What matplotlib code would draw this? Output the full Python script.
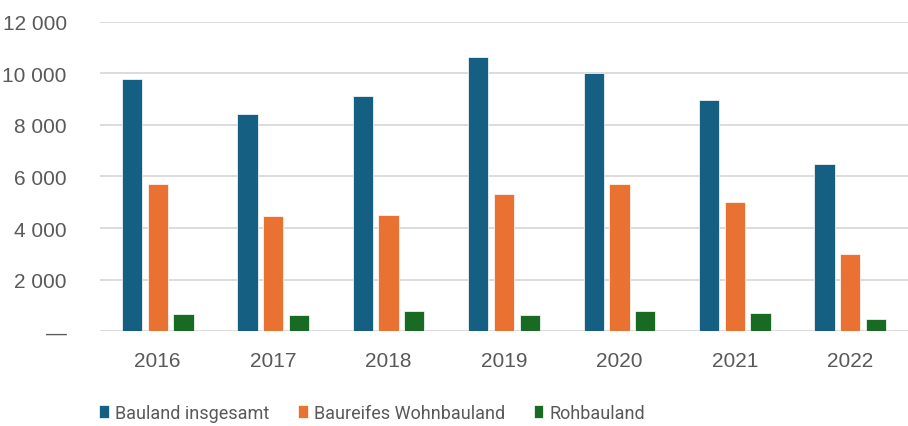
import matplotlib
matplotlib.use('Agg')
import matplotlib.pyplot as plt
import numpy as np

years = ['2016', '2017', '2018', '2019', '2020', '2021', '2022']
bauland_insgesamt = [9780, 8410, 9110, 10610, 9990, 8970, 6480]
baureifes_wohnbauland = [5690, 4480, 4510, 5320, 5690, 5000, 3010]
rohbauland = [660, 630, 770, 630, 770, 710, 480]

series_names = ['Bauland insgesamt', 'Baureifes Wohnbauland', 'Rohbauland']
colors = ['#156082', '#E97132', '#196B24']
yticks = [0, 2000, 4000, 6000, 8000, 10000, 12000]
ytick_labels = ['—', '2 000', '4 000', '6 000', '8 000', '10 000', '12 000']

plt.rcParams['font.family'] = ['Liberation Sans', 'DejaVu Sans']
text_color = '#595959'

fig = plt.figure(figsize=(9.08, 4.27), dpi=100)
ax = fig.add_axes([100/908, 1 - 332.3/427, 808/908, 309.8/427])

x = np.arange(len(years))
width = 0.176
step = 0.223
for i, (vals, name, c) in enumerate(zip([bauland_insgesamt, baureifes_wohnbauland, rohbauland], series_names, colors)):
    ax.bar(x + (i - 1) * step, vals, width, color=c, label=name,
           edgecolor='white', linewidth=0.5, zorder=3)

ax.set_xlim(-0.5, len(years) - 0.5)
ax.set_ylim(0, 12000)
ax.set_yticks(yticks)
ax.set_yticklabels(ytick_labels)
ax.set_xticks(x)
ax.set_xticklabels(years)
ax.grid(axis='y', color='#D9D9D9', linewidth=1.3, zorder=0)
for s in ax.spines.values():
    s.set_visible(False)
ax.tick_params(axis='y', length=0, pad=24, labelsize=15, labelcolor=text_color)
ax.tick_params(axis='x', length=0, pad=14, labelsize=15, labelcolor=text_color)

# legend font in the original is a narrow face
leg = fig.legend(loc='center', bbox_to_anchor=(372/908, 1 - 414/427), ncol=3,
                 frameon=False, handlelength=0.53, handleheight=0.75,
                 handletextpad=0.33, columnspacing=1.6,
                 prop={'family': ['Roboto'], 'size': 13})
for t in leg.get_texts():
    t.set_color(text_color)

fig.savefig('out.png', dpi=100)
